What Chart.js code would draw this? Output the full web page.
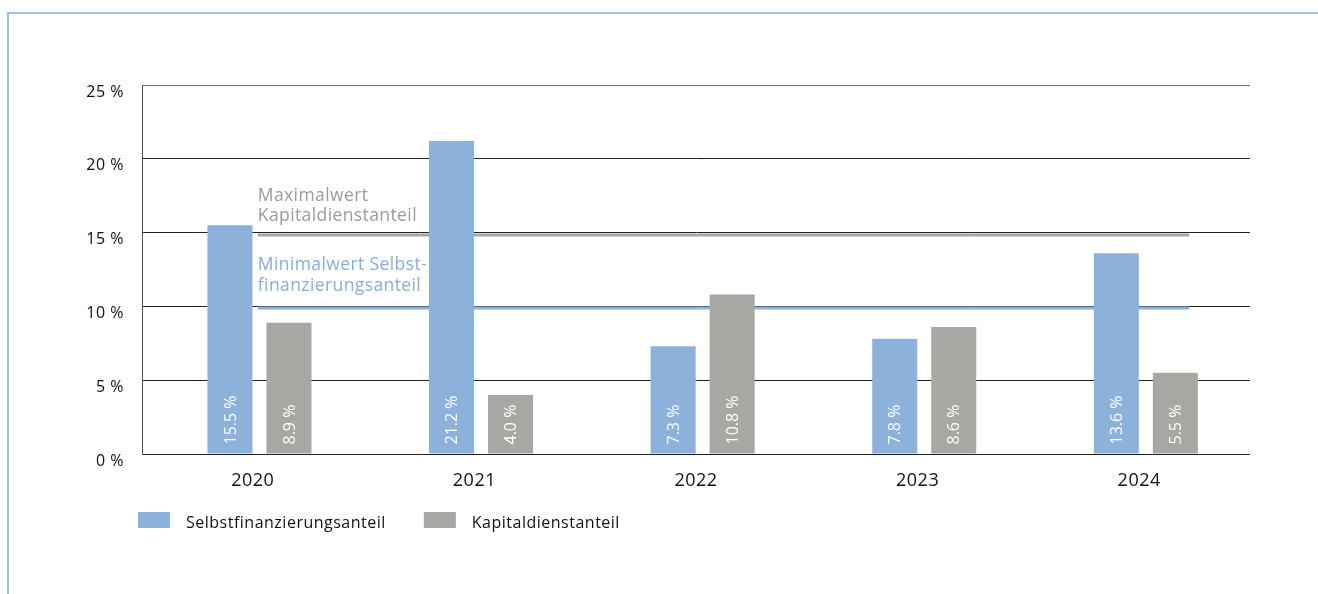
<!DOCTYPE html>
<html>
<head>
<meta charset="utf-8">
<script src="https://cdn.jsdelivr.net/npm/chart.js@4/dist/chart.umd.min.js"></script>
<style>
  html, body { margin: 0; padding: 0; background: #fff; overflow: hidden; }
  canvas { display: block; }
</style>
</head>
<body>
<canvas id="c" width="1318" height="594"></canvas>
<script>
// ---- data ----
const years = ['2020', '2021', '2022', '2023', '2024'];
const selbstfinanzierung = [15.5, 21.2, 7.3, 7.8, 13.6];
const kapitaldienst = [8.9, 4.0, 10.8, 8.6, 5.5];
const yTickValues = [0, 5, 10, 15, 20, 25];
const maxKapitaldienst = 15;
const minSelbstfinanzierung = 10;
const seriesNames = ['Selbstfinanzierungsanteil', 'Kapitaldienstanteil'];
const refLabelsMax = ['Maximalwert', 'Kapitaldienstanteil'];
const refLabelsMin = ['Minimalwert Selbst-', 'finanzierungsanteil'];

const BLUE = '#8cb1db';
const GRAY = '#a7a7a3';
const FONT = '"Open Sans", "DejaVu Sans", sans-serif';
const BAR_SHIFT = 0.03; // bars sit slightly right of the category centre

function fmt(v) { return v.toFixed(1) + ' %'; }
function toPoints(arr) { return arr.map((v, i) => ({ x: i, y: v })); }

const framePlugin = {
  id: 'frame',
  beforeDraw(chart) {
    const ctx = chart.ctx;
    ctx.letterSpacing = '0.5px';
    ctx.save();
    ctx.fillStyle = '#fff';
    ctx.fillRect(0, 0, chart.width, chart.height);
    ctx.strokeStyle = '#9fc0e8';
    ctx.lineWidth = 2;
    ctx.beginPath();
    ctx.moveTo(8, chart.height);
    ctx.lineTo(8, 13);
    ctx.lineTo(chart.width, 13);
    ctx.stroke();
    ctx.restore();
  }
};

const refPlugin = {
  id: 'refs',
  beforeDatasetsDraw(chart) {
    const ctx = chart.ctx, xs = chart.scales.x, ys = chart.scales.y;
    const x0 = xs.getPixelForValue(0) + 5;
    const x1 = xs.getPixelForValue(years.length - 1) + 50;
    ctx.save();
    ctx.lineWidth = 3;
    ctx.strokeStyle = GRAY;
    let y = Math.round(ys.getPixelForValue(maxKapitaldienst)) + 2;
    ctx.beginPath(); ctx.moveTo(x0, y); ctx.lineTo(x1, y); ctx.stroke();
    ctx.strokeStyle = BLUE;
    y = Math.round(ys.getPixelForValue(minSelbstfinanzierung)) + 2;
    ctx.beginPath(); ctx.moveTo(x0, y); ctx.lineTo(x1, y); ctx.stroke();
    ctx.restore();
  },
  afterDatasetsDraw(chart) {
    const ctx = chart.ctx, xs = chart.scales.x, ys = chart.scales.y;
    const x0 = xs.getPixelForValue(0) + 5;
    ctx.save();
    ctx.letterSpacing = '0.4px';
    ctx.font = '17.5px ' + FONT;
    ctx.textAlign = 'left';
    ctx.textBaseline = 'alphabetic';
    ctx.fillStyle = '#9a9a9a';
    let yb = ys.getPixelForValue(maxKapitaldienst);
    ctx.fillText(refLabelsMax[0], x0, yb - 32);
    ctx.fillText(refLabelsMax[1], x0, yb - 12);
    ctx.fillStyle = '#86aedb';
    yb = ys.getPixelForValue(minSelbstfinanzierung);
    ctx.fillText(refLabelsMin[0], x0, yb - 36);
    ctx.fillText(refLabelsMin[1], x0, yb - 15);

    // value labels inside bars
    ctx.letterSpacing = '0px';
    ctx.font = '16px ' + FONT;
    ctx.fillStyle = '#ffffff';
    chart.data.datasets.forEach((ds, di) => {
      const meta = chart.getDatasetMeta(di);
      meta.data.forEach((el, i) => {
        ctx.save();
        ctx.translate(el.x + 1, el.base - 9);
        ctx.rotate(-Math.PI / 2);
        ctx.textAlign = 'left';
        ctx.textBaseline = 'middle';
        ctx.fillText(fmt(ds.data[i].y), 0, 0);
        ctx.restore();
      });
    });
    ctx.restore();
  },
  afterDraw(chart) {
    // legend
    const ctx = chart.ctx;
    const left = chart.chartArea.left - 4;
    const top = 512;
    ctx.save();
    ctx.letterSpacing = '0.5px';
    ctx.font = '16px ' + FONT;
    ctx.textBaseline = 'alphabetic';
    ctx.textAlign = 'left';
    let x = left;
    chart.data.datasets.forEach((ds) => {
      ctx.fillStyle = ds.backgroundColor;
      ctx.fillRect(x, top, 32, 16);
      ctx.fillStyle = '#111';
      ctx.fillText(ds.label, x + 48, top + 16);
      x += 48 + ctx.measureText(ds.label).width + 38;
    });
    ctx.restore();
  }
};

new Chart(document.getElementById('c'), {
  type: 'bar',
  data: {
    labels: years,
    datasets: [
      { label: seriesNames[0], data: toPoints(selbstfinanzierung), backgroundColor: BLUE, xAxisID: 'xb' },
      { label: seriesNames[1], data: toPoints(kapitaldienst), backgroundColor: GRAY, xAxisID: 'xb' }
    ]
  },
  options: {
    responsive: false,
    devicePixelRatio: 1,
    animation: false,
    categoryPercentage: 0.5325,
    barPercentage: 0.763,
    layout: { padding: { left: 0, right: 68, top: 85, bottom: 0 } },
    plugins: {
      legend: { display: false },
      tooltip: { enabled: false }
    },
    scales: {
      x: {
        type: 'category',
        labels: years,
        grid: { display: false },
        border: { display: false },
        ticks: { font: { family: FONT, size: 18 }, color: '#111', padding: 8 },
        afterFit(s) { s.height = 140; }
      },
      xb: {
        type: 'linear',
        display: false,
        min: -0.5 - BAR_SHIFT,
        max: years.length - 0.5 - BAR_SHIFT,
        offset: false,
        afterBuildTicks(s) { s.ticks = years.map((_, i) => ({ value: i })); }
      },
      y: {
        min: 0,
        max: 25,
        afterBuildTicks(s) { s.ticks = yTickValues.map(v => ({ value: v })); },
        ticks: {
          callback: v => v + ' %',
          font: { family: FONT, size: 16 },
          color: '#111',
          padding: 18,
          labelOffset: 7
        },
        grid: {
          drawTicks: false,
          color: c => (c.tick && c.tick.value === 25) ? '#6a6a6a' : '#222',
          lineWidth: 1
        },
        border: { display: true, color: '#555', width: 1 },
        afterFit(s) { s.width = 142; }
      }
    }
  },
  plugins: [framePlugin, refPlugin]
});
</script>
</body>
</html>
